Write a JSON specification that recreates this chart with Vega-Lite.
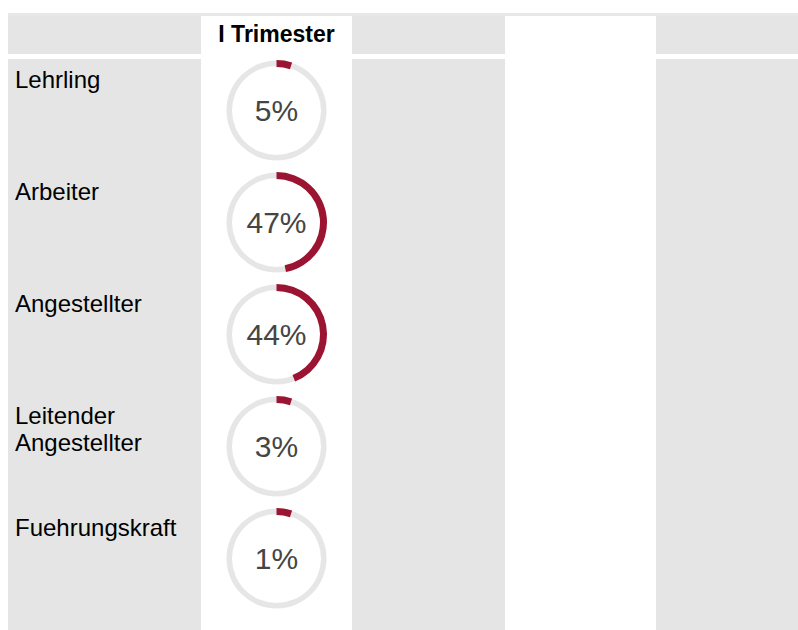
{
  "$schema": "https://vega.github.io/schema/vega-lite/v6.json",
  "padding": {"left": 8, "top": 13, "right": 0, "bottom": 0},
  "background": "white",
  "config": {"view": {"stroke": null}, "font": "Liberation Sans"},
  "datasets": {
    "rows": [
      {"cat": "Lehrling", "share": 0.05},
      {"cat": "Arbeiter", "share": 0.47},
      {"cat": "Angestellter", "share": 0.44},
      {"cat": "Leitender\nAngestellter", "share": 0.03},
      {"cat": "Fuehrungskraft", "share": 0.01}
    ],
    "header": [{"col": "I Trimester"}]
  },
  "spacing": 5,
  "vconcat": [
    {
      "spacing": 0,
      "vconcat": [
        {"width": 790, "height": 3, "view": {"fill": "#e8e8e8"}, "data": {"values": []}, "mark": "point"},
        {
          "spacing": 0,
          "hconcat": [
            {"width": 193, "height": 38, "view": {"fill": "#e5e5e5"}, "data": {"values": []}, "mark": "point"},
            {"width": 151, "height": 38, "view": {"fill": "white"}, "data": {"name": "header"},
             "mark": {"type": "text", "fontSize": 23, "fontWeight": "bold", "color": "black"},
             "encoding": {"text": {"field": "col"}}},
            {"width": 153, "height": 38, "view": {"fill": "#e5e5e5"}, "data": {"values": []}, "mark": "point"},
            {"width": 151, "height": 38, "view": {"fill": "white"}, "data": {"values": []}, "mark": "point"},
            {"width": 142, "height": 38, "view": {"fill": "#e5e5e5"}, "data": {"values": []}, "mark": "point"}
          ]
        }
      ]
    },
    {
      "spacing": 0,
      "hconcat": [
        {"width": 193, "height": 571, "view": {"fill": "#e5e5e5"}, "data": {"name": "rows"},
         "mark": {"type": "text", "align": "left", "baseline": "top", "fontSize": 24, "lineHeight": 27, "lineBreak": "\n", "dx": 7, "dy": -42, "color": "black"},
         "encoding": {
           "y": {"field": "cat", "type": "nominal", "sort": null, "scale": {"range": [-4.5, 555.5], "paddingInner": 0, "paddingOuter": 0}, "axis": null},
           "x": {"datum": 0, "type": "quantitative", "scale": {"domain": [0, 1]}, "axis": null},
           "text": {"field": "cat"}
         }},
        {"width": 151, "height": 571, "view": {"fill": "white"}, "data": {"name": "rows"},
         "encoding": {
           "y": {"field": "cat", "type": "nominal", "sort": null, "scale": {"range": [-4.5, 555.5], "paddingInner": 0, "paddingOuter": 0}, "axis": null}
         },
         "layer": [
           {"mark": {"type": "arc", "radius": 50, "radius2": 44.5, "theta": 0, "theta2": 6.2832, "color": "#e6e6e6"}},
           {"mark": {"type": "arc", "radius": 50.5, "radius2": 43.5, "theta2": 0, "color": "#9b1532"},
            "encoding": {"theta": {"field": "share", "type": "quantitative", "stack": null, "scale": {"domain": [0, 0.05, 1], "range": [0.3142, 0.3142, 6.2832]}}}},
           {"mark": {"type": "text", "fontSize": 30, "color": "#454545", "baseline": "middle", "dy": 1},
            "encoding": {"text": {"field": "share", "type": "quantitative", "format": ".0%"}}}
         ]},
        {"width": 153, "height": 571, "view": {"fill": "#e5e5e5"}, "data": {"values": []}, "mark": "point"},
        {"width": 151, "height": 571, "view": {"fill": "white"}, "data": {"values": []}, "mark": "point"},
        {"width": 142, "height": 571, "view": {"fill": "#e5e5e5"}, "data": {"values": []}, "mark": "point"}
      ]
    }
  ]
}
